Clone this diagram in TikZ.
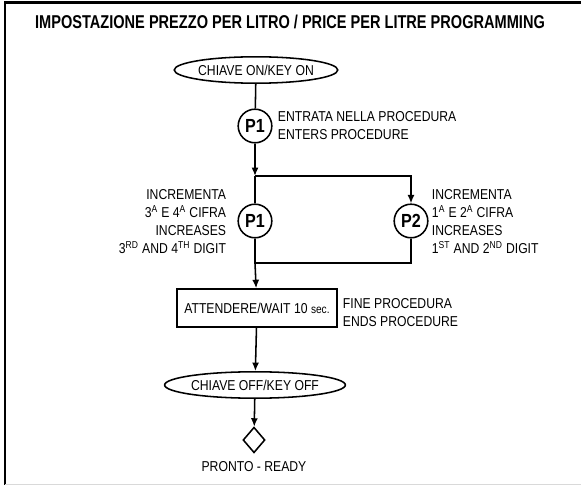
\documentclass[tikz,border=0pt]{standalone}
\usepackage{fontspec}
\setmainfont{Liberation Sans}[FakeStretch=0.85]
\newfontfamily\titlefont{Liberation Sans}[FakeStretch=0.785]
\usetikzlibrary{arrows.meta,shapes.geometric}

\begin{document}
\begin{tikzpicture}[
  x=0.025cm, y=-0.025cm,
  >={Latex[length=6pt,width=5pt]},
  term/.style={draw, ellipse, line width=1.1pt, minimum width=3.9cm, minimum height=0.66cm, inner sep=0pt},
  pcirc/.style={draw, circle, line width=1.1pt, minimum size=0.84cm, inner sep=0pt, font=\fontsize{13.5}{14}\selectfont\bfseries},
  wbox/.style={draw, line width=1.1pt, minimum width=4cm, minimum height=0.95cm, inner sep=1pt},
  arr/.style={->, line width=1.1pt},
  ln/.style={line width=1.1pt},
  every node/.style={font=\fontsize{10.2}{12.8}\selectfont}
]
\useasboundingbox (0,0) rectangle (581,485);
% frame
\draw[line width=1.5pt] (5,485) -- (5,2.5) -- (581,2.5);
\draw[gray!30, line width=0.6pt] (5,484) -- (581,484);

\node[font=\titlefont\fontsize{13.2}{14}\selectfont\bfseries] (title) at (290,21.5)
  {IMPOSTAZIONE PREZZO PER LITRO / PRICE PER LITRE PROGRAMMING};

\node[term] (keyon) at (256,70) {CHIAVE ON/KEY ON};
\node[pcirc] (p1a) at (255,126) {P1};
\node[anchor=west, align=left] (enter) at (273,126) {ENTRATA NELLA PROCEDURA\\ENTERS PROCEDURE};

\node[pcirc] (p1b) at (255,221) {P1};
\node[pcirc] (p2) at (411,221) {P2};
\node[anchor=east, align=right] (inc1) at (231,222)
  {INCREMENTA\\3\textsuperscript{A} E 4\textsuperscript{A} CIFRA\\INCREASES\\3\textsuperscript{RD} AND 4\textsuperscript{TH} DIGIT};
\node[anchor=west, align=left] (inc2) at (427,222)
  {INCREMENTA\\1\textsuperscript{A} E 2\textsuperscript{A} CIFRA\\INCREASES\\1\textsuperscript{ST} AND 2\textsuperscript{ND} DIGIT};

\node[wbox] (wait) at (257,308) {ATTENDERE/WAIT 10 {\fontsize{8.5}{9}\selectfont sec.}};
\node[anchor=west, align=left] (fine) at (338,313) {FINE PROCEDURA\\ENDS PROCEDURE};

\node[term] (keyoff) at (255,385) {CHIAVE OFF/KEY OFF};
\node[draw, diamond, line width=1.1pt, minimum width=0.55cm, minimum height=0.64cm, inner sep=0pt] (ready) at (254,440) {};
\node (pronto) at (254,467) {PRONTO - READY};

\coordinate (splitA) at (255,176);
\coordinate (splitB) at (411,176);
\coordinate (joinA) at (255,263);
\coordinate (joinB) at (411,263);

\draw[ln] (keyon) -- (p1a);
\draw[arr] (p1a) -- (splitA);
\draw[ln] (splitA) -- (p1b);
\draw[arr] (splitA) -- (splitB) -- (p2);
\draw[ln] (p1b) -- (joinA) -- (joinB) -- (p2);
\draw[arr] (joinA) -- (wait);
\draw[arr] (wait) -- (keyoff);
\draw[arr] (keyoff) -- (ready);
\end{tikzpicture}
\end{document}
